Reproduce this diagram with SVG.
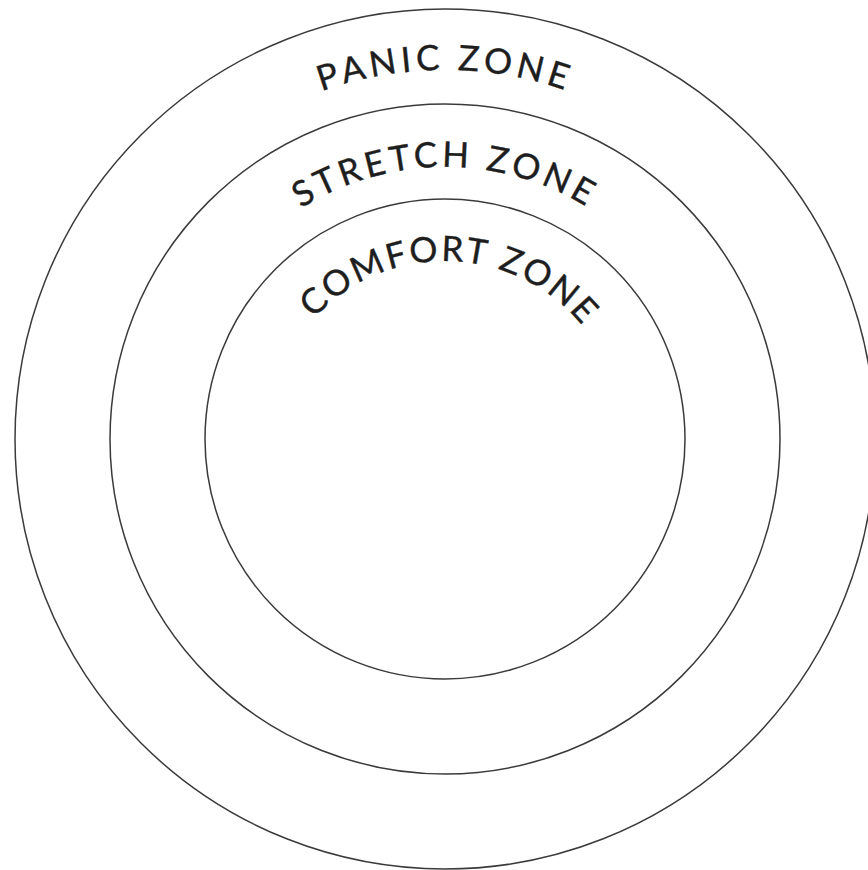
<svg xmlns="http://www.w3.org/2000/svg" width="868" height="870" viewBox="0 0 868 870">
<style>
.ring{fill:none;stroke:#3a3a3a;stroke-width:1.5}
.lbl{font-family:Lato,"Open Sans","Liberation Sans",sans-serif;font-size:35px;fill:#1e1e1e;stroke:#1e1e1e;stroke-width:0.4;text-anchor:middle}
</style>
<defs>
<path id="arcPanic" d="M76,439 A369,369 0 0 1 814,439"/>
<path id="arcStretch" d="M173,439 A272,272 0 0 1 717,439"/>
<path id="arcComfort" d="M267,439 A178,178 0 0 1 623,439"/>
</defs>
<rect width="868" height="870" fill="#ffffff"/>
<g id="panic-zone">
<circle class="ring" cx="445" cy="439" r="430"/>
<text class="lbl" letter-spacing="4.5"><textPath href="#arcPanic" startOffset="50%">PANIC ZONE</textPath></text>
</g>
<g id="stretch-zone">
<circle class="ring" cx="445" cy="439" r="335"/>
<text class="lbl" letter-spacing="4"><textPath href="#arcStretch" startOffset="50%">STRETCH ZONE</textPath></text>
</g>
<g id="comfort-zone">
<circle class="ring" cx="445" cy="439" r="240"/>
<text class="lbl" letter-spacing="2.5"><textPath href="#arcComfort" startOffset="51%">COMFORT ZONE</textPath></text>
</g>
<g id="connectors"></g>
</svg>
